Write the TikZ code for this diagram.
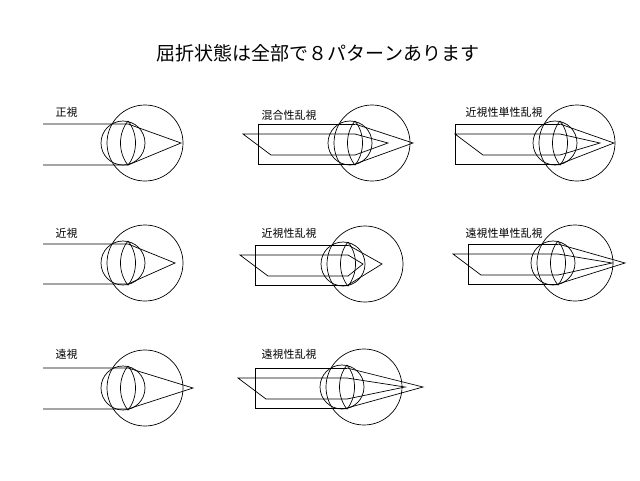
\documentclass[tikz,border=0pt]{standalone}
\usepackage{fontspec}
\newfontfamily\jpfont{Noto Sans CJK JP}
\usetikzlibrary{calc}

% eye: big globe, cornea and lens around centre (#1,#2)
\newcommand{\eyeball}[2]{%
  \draw (#1,#2) circle (38);
  \draw (#1-22,#2) circle (22);
  \draw (#1-17,#2-22) .. controls (#1-7,#2-10) and (#1-7,#2+10) .. (#1-17,#2+22)
        .. controls (#1-27,#2+10) and (#1-27,#2-10) .. (#1-17,#2-22);
}
% astigmatic rays: box from x #3, slanted ray from x #4, foci #5 (box) and #6 (slant)
\newcommand{\astig}[6]{%
  \draw (#1-17,#2-19) -- (#3,#2-19) -- (#3,#2+21) -- (#1-17,#2+21);
  \draw (#1-17,#2-19) -- (#5,#2) -- (#1-17,#2+21);
  \draw (#1-17,#2-9) -- (#4,#2-9) -- (#4+28,#2+12) -- (#1-17,#2+12);
  \draw (#1-17,#2-9) -- (#6,#2) -- (#1-17,#2+12);
}

\begin{document}
\begin{tikzpicture}[x=1pt,y=-1pt,line width=0.7pt,
  lbl/.style={font=\jpfont\fontsize{11}{13}\selectfont,anchor=west}]
\useasboundingbox (0,0) rectangle (640,480);

\node[font=\jpfont\fontsize{19}{22}\selectfont] (title) at (318,53) {屈折状態は全部で８パターンあります};

% row 1
\node[lbl] (emm) at (52,112) {正視};
\eyeball{145}{143}
\draw (43,124) -- (128,124) -- (181,143) -- (128,165) -- (43,165);
\node[lbl] (mixed) at (258,115) {混合性乱視};
\eyeball{372}{143}
\astig{372}{143}{258}{243}{413}{388}
\node[lbl] (msimple) at (462,112) {近視性単性乱視};
\eyeball{577}{143}
\astig{577}{143}{455}{455}{614}{600}

% row 2
\node[lbl] (myo) at (52,233) {近視};
\eyeball{145}{263}
\draw (43,244) -- (128,244) -- (175,263) -- (128,284) -- (43,284);
\node[lbl] (myast) at (258,233) {近視性乱視};
\eyeball{365}{264}
\astig{365}{264}{255}{240}{382}{363}
\node[lbl] (hsimple) at (462,233) {遠視性単性乱視};
\eyeball{575}{263}
\astig{575}{263}{468}{453}{625}{612}

% row 3
\node[lbl] (hyp) at (52,354) {遠視};
\eyeball{145}{388}
\draw (43,368) -- (128,368) -- (193,388) -- (128,409) -- (43,409);
\node[lbl] (hyast) at (258,354) {遠視性乱視};
\eyeball{364}{387}
\astig{364}{387}{255}{238}{423}{405}
\end{tikzpicture}
\end{document}
